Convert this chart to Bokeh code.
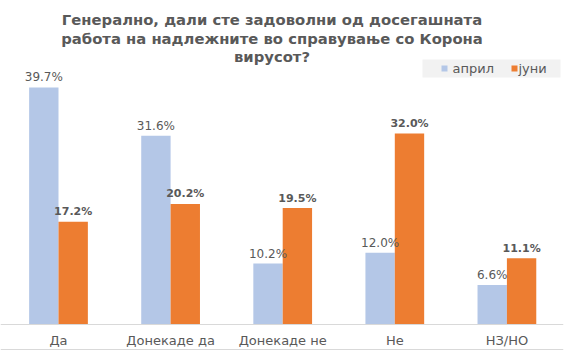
from bokeh.plotting import figure
from bokeh.models import ColumnDataSource, Range1d, Span
from bokeh.core.properties import value
from bokeh.embed import file_html
from bokeh.resources import INLINE

# ---- data ----
categories = ["Да", "Донекаде да", "Донекаде не", "Не", "НЗ/НО"]
april = [39.7, 31.6, 10.2, 12.0, 6.6]
juni = [17.2, 20.2, 19.5, 32.0, 11.1]
series_names = ["април", "јуни"]
title_lines = [
    "Генерално, дали сте задоволни од досегашната",
    "работа на надлежните во справување со Корона",
    "вирусот?",
]

# ---- layout constants ----
W, H = 585, 355
FRAME_W = 563
BASE_PX = 324          # pixel row of the zero line
PX_PER_X = 112.1
PX_PER_Y = 5.97
X0 = 0.5 - 58 / PX_PER_X
X1 = X0 + FRAME_W / PX_PER_X

APRIL_C = "#B4C7E7"
JUNI_C = "#ED7D31"
TXT_C = "#595959"
RULE_C = "#D9D9D9"
FONT = "DejaVu Sans"


def dx(px):
    return X0 + px / PX_PER_X


def dy(py):
    return (BASE_PX - py) / PX_PER_Y


p = figure(width=W, height=H, output_backend="svg", toolbar_location=None,
           x_range=Range1d(X0, X1), y_range=Range1d(dy(H), dy(0)),
           min_border_left=0, min_border_right=W - FRAME_W,
           min_border_top=0, min_border_bottom=0)
p.outline_line_color = None
p.xgrid.visible = False
p.ygrid.visible = False
p.xaxis.visible = False
p.yaxis.visible = False

centers = [i + 0.5 for i in range(len(categories))]
off = 0.131
bw = 0.262

src = ColumnDataSource(dict(
    xa=[c - off for c in centers], xj=[c + off for c in centers],
    april=april, juni=juni,
    la=[f"{v:.1f}%" for v in april], lj=[f"{v:.1f}%" for v in juni],
))

# baseline and bottom rule
p.add_layout(Span(location=0, dimension="width", line_color=RULE_C, line_width=1))
p.add_layout(Span(location=dy(349), dimension="width", line_color=RULE_C, line_width=1))

p.vbar(x="xa", top="april", width=bw, bottom=0, source=src,
       fill_color=APRIL_C, line_color=None)
p.vbar(x="xj", top="juni", width=bw, bottom=0, source=src,
       fill_color=JUNI_C, line_color=None)

p.text(x="xa", y="april", text="la", source=src, text_align="center",
       text_baseline="middle", y_offset=-10, text_color=TXT_C,
       text_font=value(FONT), text_font_size=value("12px"))
p.text(x="xj", y="juni", text="lj", source=src, text_align="center",
       text_baseline="middle", y_offset=-10, text_color=TXT_C,
       text_font=value(FONT), text_font_size=value("11px"),
       text_font_style="bold")

# category labels
p.text(x=centers, y=[dy(340)] * len(centers), text=categories,
       text_align="center", text_baseline="middle", text_color=TXT_C,
       text_font=value(FONT), text_font_size=value("13px"))

# title
p.text(x=[dx(271.5)] * 3, y=[dy(19), dy(37.5), dy(56)], text=title_lines,
       text_align="center", text_baseline="middle", text_color=TXT_C,
       text_font=value(FONT), text_font_size=value("14.8px"),
       text_font_style="bold")

# legend
p.rect(x=[dx(491)], y=[dy(68)], width=138, height=18, width_units="screen",
       height_units="screen", fill_color="#F2F2F2", line_color=None)
p.rect(x=[dx(444), dx(514)], y=[dy(68), dy(68)], width=6, height=6,
       width_units="screen", height_units="screen",
       fill_color=[APRIL_C, JUNI_C], line_color=None)
p.text(x=[dx(452), dx(518)], y=[dy(68), dy(68)], text=series_names,
       text_align="left", text_baseline="middle", text_color=TXT_C,
       text_font=value(FONT), text_font_size=value("13px"))

open("out.html", "w").write(file_html(p, INLINE))
